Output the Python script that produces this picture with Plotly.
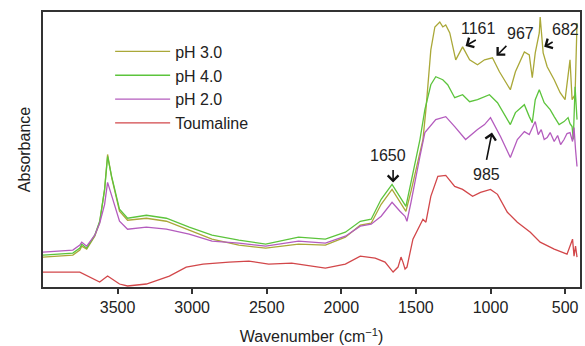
import plotly.graph_objects as go

# ---- data (wavenumber cm^-1, absorbance a.u.) ----
wn_ph3 = [4000, 3800, 3753, 3740, 3707, 3653, 3620, 3587, 3567, 3540, 3487, 3433, 3307, 3173, 3020, 2867,
          2687, 2507, 2287, 2107, 1973, 1873, 1800, 1733, 1660, 1607, 1567, 1533, 1473, 1453, 1433, 1400,
          1373, 1340, 1320, 1300, 1273, 1233, 1187, 1140, 1087, 1040, 987, 940, 867, 833, 773, 740, 720,
          700, 673, 667, 647, 620, 573, 533, 500, 467, 453, 433, 420]
ab_ph3 = [0.29, 0.31, 0.36, 0.40, 0.37, 0.50, 0.64, 0.97, 1.32, 1.09, 0.75, 0.66, 0.68, 0.65, 0.56, 0.47,
          0.41, 0.38, 0.42, 0.41, 0.49, 0.61, 0.63, 0.82, 0.97, 0.85, 0.75, 0.95, 1.32, 1.47, 1.77, 2.37,
          2.60, 2.65, 2.60, 2.62, 2.54, 2.27, 2.40, 2.27, 2.22, 2.27, 2.29, 2.15, 1.97, 2.15, 2.35, 2.32, 2.09,
          2.34, 2.54, 2.70, 2.34, 2.20, 2.07, 1.94, 1.87, 2.27, 1.87, 1.92, 2.64]

wn_ph4 = [4000, 3800, 3753, 3740, 3707, 3653, 3620, 3587, 3567, 3540, 3487, 3433, 3307, 3173, 3020, 2867,
          2687, 2507, 2287, 2107, 1973, 1873, 1800, 1733, 1660, 1607, 1587, 1567, 1533, 1473, 1440, 1400,
          1367, 1340, 1320, 1287, 1240, 1187, 1140, 1087, 1040, 1007, 953, 867, 833, 773, 740, 720, 700,
          673, 640, 600, 573, 540, 507, 480, 467, 453, 445, 433, 420]
ab_ph4 = [0.31, 0.33, 0.38, 0.42, 0.38, 0.51, 0.65, 0.97, 1.30, 1.10, 0.77, 0.68, 0.71, 0.68, 0.59, 0.51,
          0.46, 0.42, 0.49, 0.47, 0.54, 0.65, 0.67, 0.87, 1.02, 0.89, 0.85, 0.80, 1.04, 1.47, 1.77, 2.02,
          2.10, 2.08, 2.07, 2.02, 1.89, 1.92, 1.85, 1.87, 1.90, 1.92, 1.84, 1.62, 1.74, 1.82, 1.70, 1.64, 1.87,
          1.97, 1.84, 1.77, 1.70, 1.62, 1.65, 1.69, 1.63, 1.60, 1.47, 2.00, 1.67]

wn_ph2 = [4000, 3800, 3753, 3740, 3707, 3653, 3620, 3587, 3567, 3540, 3487, 3433, 3307, 3173, 3020, 2867,
          2687, 2507, 2287, 2107, 1973, 1873, 1800, 1733, 1660, 1607, 1573, 1560, 1533, 1473, 1440, 1367,
          1300, 1240, 1167, 1087, 1040, 1000, 933, 867, 820, 773, 740, 700, 680, 660, 640, 620, 600, 573,
          550, 530, 507, 487, 467, 450, 440, 430, 420]
ab_ph2 = [0.34, 0.36, 0.41, 0.44, 0.40, 0.51, 0.63, 0.82, 1.04, 0.90, 0.65, 0.57, 0.59, 0.57, 0.52, 0.45,
          0.43, 0.40, 0.45, 0.43, 0.50, 0.60, 0.62, 0.70, 0.84, 0.75, 0.70, 0.65, 0.84, 1.30, 1.54, 1.67,
          1.70, 1.60, 1.47, 1.57, 1.62, 1.69, 1.50, 1.29, 1.47, 1.55, 1.52, 1.65, 1.52, 1.57, 1.47, 1.49, 1.54, 1.45,
          1.51, 1.42, 1.47, 1.53, 1.54, 1.45, 1.59, 1.37, 1.20]

wn_tour = [4000, 3753, 3620, 3567, 3487, 3433, 3307, 3153, 3040, 2927, 2753, 2620, 2487, 2333, 2107, 1973,
           1873, 1773, 1707, 1653, 1620, 1600, 1587, 1573, 1560, 1520, 1453, 1433, 1400, 1353, 1300, 1240,
           1187, 1120, 1067, 1000, 953, 887, 820, 733, 667, 573, 487, 450, 440, 430, 420]
ab_tour = [0.14, 0.14, 0.04, 0.10, 0.02, 0.00, 0.02, 0.10, 0.19, 0.22, 0.24, 0.25, 0.22, 0.23, 0.18, 0.22,
           0.30, 0.28, 0.24, 0.14, 0.19, 0.29, 0.24, 0.17, 0.19, 0.47, 0.67, 0.64, 0.90, 1.10, 1.11, 1.00,
           0.97, 0.90, 0.94, 0.97, 0.92, 0.74, 0.64, 0.54, 0.44, 0.37, 0.32, 0.47, 0.30, 0.40, 0.29]

series_names = ["pH 3.0", "pH 4.0", "pH 2.0", "Toumaline"]
colors = ["#aaa838", "#5cc43c", "#b45cbe", "#d2474a"]

# peak labels: (text, wavenumber of arrow head, absorbance at head, text wn, text absorbance)
peak_labels = [
    ("1650", 1653, 1.04, 1690, 1.31),
    ("985", 990, 1.54, 1030, 1.12),
    ("1161", 1167, 2.41, 1080, 2.58),
    ("967", 960, 2.31, 800, 2.53),
    ("682", 640, 2.40, 500, 2.57),
]
arrow_tails = [(1653, 1.19), (1030, 1.24), (1085, 2.48), (880, 2.43), (570, 2.46)]

FONT = "Liberation Sans, Arial, sans-serif"
fig = go.Figure()
for x, y, n, c in zip([wn_ph3, wn_ph4, wn_ph2, wn_tour], [ab_ph3, ab_ph4, ab_ph2, ab_tour], series_names, colors):
    fig.add_trace(go.Scatter(x=x, y=y, name=n, mode="lines", line=dict(color=c, width=1.3)))

for (t, hx, hy, tx, ty), (ax, ay) in zip(peak_labels, arrow_tails):
    fig.add_annotation(x=hx, y=hy, ax=ax, ay=ay, xref="x", yref="y", axref="x", ayref="y",
                       text=" ", showarrow=True, arrowhead=4, arrowsize=1.3, arrowwidth=1.6,
                       arrowcolor="#111", font=dict(size=2))
    fig.add_annotation(x=tx, y=ty, xref="x", yref="y", text=t, showarrow=False,
                       font=dict(size=16, color="#222", family=FONT))

fig.update_layout(
    width=585, height=346,
    margin=dict(l=43, r=3, t=12, b=59),
    paper_bgcolor="white", plot_bgcolor="white",
    font=dict(family=FONT, size=16, color="#222"),
    showlegend=True,
    legend=dict(x=0.125, y=0.918, xanchor="left", yanchor="top", bgcolor="rgba(0,0,0,0)",
                font=dict(size=16, color="#222"), itemwidth=55, tracegroupgap=0),
)
fig.update_xaxes(range=[4000, 400], tickvals=[3500, 3000, 2500, 2000, 1500, 1000, 500],
                 ticks="outside", ticklen=5, tickwidth=1.5, tickcolor="#333",
                 showline=True, linecolor="#333", linewidth=2, mirror=True, showgrid=False, zeroline=False,
                 title=dict(text="Wavenumber (cm<sup>\u22121</sup>)", standoff=16, font=dict(size=16)),
                 tickfont=dict(size=16, color="#222"))
fig.update_yaxes(range=[-0.01, 2.75], showticklabels=False, ticks="",
                 showline=True, linecolor="#333", linewidth=2, mirror=True, showgrid=False, zeroline=False,
                 title=dict(text="Absorbance", standoff=6, font=dict(size=16)))

fig.write_html("out.html", config={"displayModeBar": False},
               post_script="document.body.style.margin='0';")
